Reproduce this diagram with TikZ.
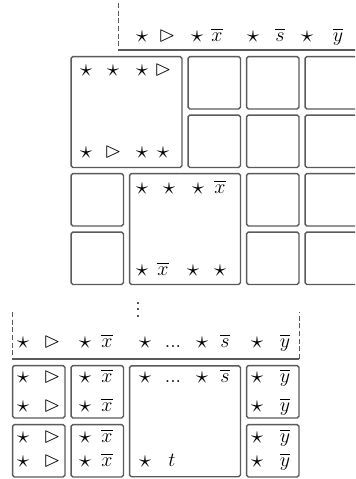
\documentclass[tikz,border=0pt]{standalone}
\usepackage{amssymb}
\usetikzlibrary{positioning}
\definecolor{edge}{HTML}{5A5A5A}
\tikzset{
  cell/.style={draw=edge,rounded corners=1pt,line width=0.8pt,minimum width=31.4pt,
    minimum height=31.4pt,inner sep=0pt},
  wide/.style={cell,minimum width=66.5pt,minimum height=66.5pt},
  sym/.style={inner sep=0pt,text height=1.5ex,text depth=.25ex,font=\fontsize{13}{15}\selectfont},
  brk/.style={line width=0.8pt,draw=edge},
  cut/.style={brk,line width=0.6pt,dash pattern=on 3pt off 1.6pt}
}
\newcommand{\tri}{\vartriangleright}
\newcommand{\st}{\raisebox{-0.7pt}{\scalebox{1.22}{$\star$}}}
\begin{document}
\begin{tikzpicture}[x=0.6pt,y=-0.6pt]
  \clip (0,0) rectangle (355,479);
  % upper block
  \node[wide] (ba) at (126.5,112) {};
  \foreach \c/\x in {3/214.25,4/272.75,5/331.25}
    \foreach \r/\y in {0/82.75,1/141.25}
      \node[cell] (u\r\c) at (\x,\y) {};
  \node[wide] (bb) at (185,229) {};
  \foreach \c/\x in {1/97.25,4/272.75,5/331.25}
    \foreach \r/\y in {2/199.75,3/258.25}
      \node[cell] (u\r\c) at (\x,\y) {};
  % lower block
  \foreach \c/\x in {0/38.75,1/97.25,4/272.75}
    \foreach \r/\y in {4/391.75,5/450.75}
      \node[cell] (l\r\c) at (\x,\y) {};
  \node[wide] (bc) at (185,421.25) {};
  % header brackets
  \coordinate (hta) at (118,3);
  \coordinate (htb) at (118,50);
  \coordinate (htc) at (362,50);
  \draw[cut] (hta) -- (htb);
  \draw[brk] (htb) -- (htc);
  \coordinate (hla) at (12,312);
  \coordinate (hlb) at (12,359);
  \coordinate (hlc) at (299,359);
  \coordinate (hld) at (299,312);
  \draw[cut] (hla) -- (hlb);
  \draw[brk] (hlb) -- (hlc);
  \draw[cut] (hlc) -- (hld);
  \node[inner sep=0pt,font=\fontsize{12}{14}\selectfont] (dots) at (138,305) {$\vdots$};
  % symbol rows
  \foreach \px/\s [count=\i] in {142/\st,167/\tri,197/\st,217/\overline{x},
      253/\st,280/\overline{s},307/\st,338/\overline{y}}
    \node[sym] (ht\i) at (\px,37) {$\s$};
  \foreach \px/\s [count=\i] in {86/\st,113/\st,142/\st,163/\tri}
    \node[sym] (at\i) at (\px,71) {$\s$};
  \foreach \px/\s [count=\i] in {86/\st,113/\tri,142/\st,163/\st}
    \node[sym] (ab\i) at (\px,153) {$\s$};
  \foreach \px/\s [count=\i] in {142/\st,169/\st,198/\st,220/\overline{x}}
    \node[sym] (bt\i) at (\px,189) {$\s$};
  \foreach \px/\s [count=\i] in {142/\st,163/\overline{x},193/\st,220/\st}
    \node[sym] (bb\i) at (\px,271) {$\s$};
  \foreach \px/\s [count=\i] in {23/\st,52/\tri,85/\st,107/\overline{x},145/\st,
      173/{...},202/\st,225/\overline{s},257/\st,285/\overline{y}}
    \node[sym] (hl\i) at (\px,343) {$\s$};
  \foreach \py [count=\j] in {378,407,438,462}
    \foreach \px/\s [count=\i] in {23/\st,52/\tri,85/\st,107/\overline{x},
        257/\st,285/\overline{y}}
      \node[sym] (c\j\i) at (\px,\py) {$\s$};
  \foreach \px/\s [count=\i] in {145/\st,173/{...},202/\st,225/\overline{s}}
    \node[sym] (ct\i) at (\px,378) {$\s$};
  \node[sym] (cb1) at (145,462) {$\st$};
  \node[sym] (cb2) at (172,462) {$t$};
\end{tikzpicture}
\end{document}
